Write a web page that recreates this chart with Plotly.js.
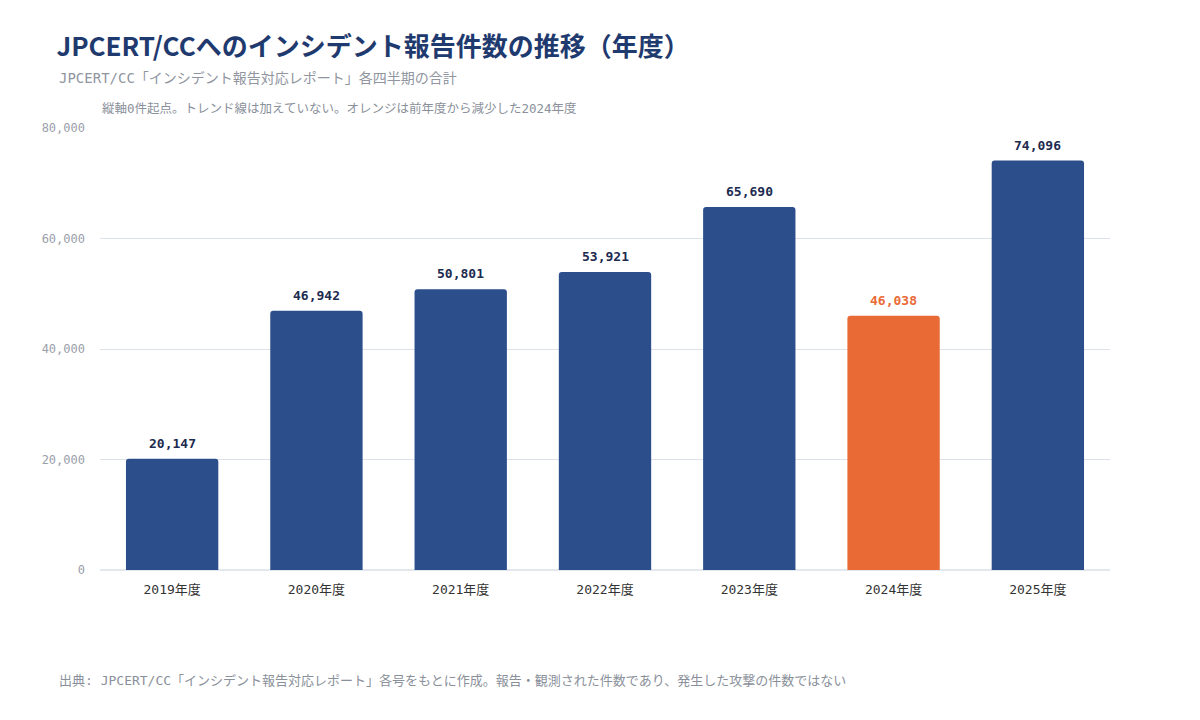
<!DOCTYPE html>
<html>
<head>
<meta charset="utf-8">
<script src="https://cdn.plot.ly/plotly-3.0.1.min.js"></script>
<style>
  html, body { margin: 0; padding: 0; background: #fff; }
  #chart { width: 1200px; height: 720px; }
</style>
</head>
<body>
<div id="chart"></div>
<script>
var years = ['2019年度', '2020年度', '2021年度', '2022年度', '2023年度', '2024年度', '2025年度'];
var reports = [20147, 46942, 50801, 53921, 65690, 46038, 74096];

var navy = '#2c4f8c';
var orange = '#e96a35';

// オレンジ = 前年度から減少した年度
function isDrop(i) { return i > 0 && reports[i] < reports[i - 1]; }
var barColors = reports.map(function (v, i) { return isDrop(i) ? orange : navy; });

var font = '"DejaVu Sans Mono", "Noto Sans CJK JP", sans-serif';
var jpFont = '"Noto Sans CJK JP", sans-serif';

var trace = {
  x: years,
  y: reports,
  type: 'bar',
  marker: { color: barColors, cornerradius: 3 },
  hoverinfo: 'x+y'
};

// 値ラベル（棒の上）
var valueLabels = reports.map(function (v, i) {
  return {
    x: years[i], y: v, xref: 'x', yref: 'y',
    text: v.toLocaleString('en-US'),
    showarrow: false, yanchor: 'bottom', yshift: 6,
    font: { family: font, size: 13, weight: 'bold', color: isDrop(i) ? orange : '#1d2b4f' }
  };
});

var layout = {
  width: 1200,
  height: 720,
  margin: { l: 100, r: 90, t: 128, b: 150 },
  paper_bgcolor: '#ffffff',
  plot_bgcolor: '#ffffff',
  bargap: 0.36,
  showlegend: false,
  font: { family: font, color: '#333' },
  title: {
    text: 'JPCERT/CCへのインシデント報告件数の推移（年度）',
    font: { family: jpFont, size: 26, color: '#1f3a6e', weight: 'bold' },
    x: 0.047, xanchor: 'left',
    y: 0.935, yanchor: 'middle'
  },
  xaxis: {
    type: 'category',
    tickfont: { family: font, size: 13, color: '#333' },
    showgrid: false,
    showline: false,
    ticks: '',
    ticklabelstandoff: 10
  },
  yaxis: {
    range: [0, 80000],
    tickvals: [0, 20000, 40000, 60000, 80000],
    tickformat: ',',
    tickfont: { family: font, size: 12, color: '#9aa0aa' },
    gridcolor: '#dde1ea',
    gridwidth: 1,
    zeroline: true,
    zerolinecolor: '#e3e7ee',
    zerolinewidth: 2,
    showline: false,
    ticks: '',
    ticklabelstandoff: 14
  },
  annotations: valueLabels.concat([
    {
      text: 'JPCERT/CC「インシデント報告対応レポート」各四半期の合計',
      xref: 'paper', yref: 'paper', x: -0.043, y: 1.113, xanchor: 'left', yanchor: 'middle',
      showarrow: false, font: { family: font, size: 14, color: '#9095a0' }
    },
    {
      text: '縦軸0件起点。トレンド線は加えていない。オレンジは前年度から減少した2024年度',
      xref: 'paper', yref: 'paper', x: 0, y: 1.045, xanchor: 'left', yanchor: 'middle',
      showarrow: false, font: { family: font, size: 12.5, color: '#8a909a' }
    },
    {
      text: '出典: JPCERT/CC「インシデント報告対応レポート」各号をもとに作成。報告・観測された件数であり、発生した攻撃の件数ではない',
      xref: 'paper', yref: 'paper', x: -0.043, y: -0.249, xanchor: 'left', yanchor: 'middle',
      showarrow: false, font: { family: font, size: 13, color: '#8a909a' }
    }
  ])
};

Plotly.newPlot('chart', [trace], layout, { displayModeBar: false, staticPlot: true });
</script>
</body>
</html>
